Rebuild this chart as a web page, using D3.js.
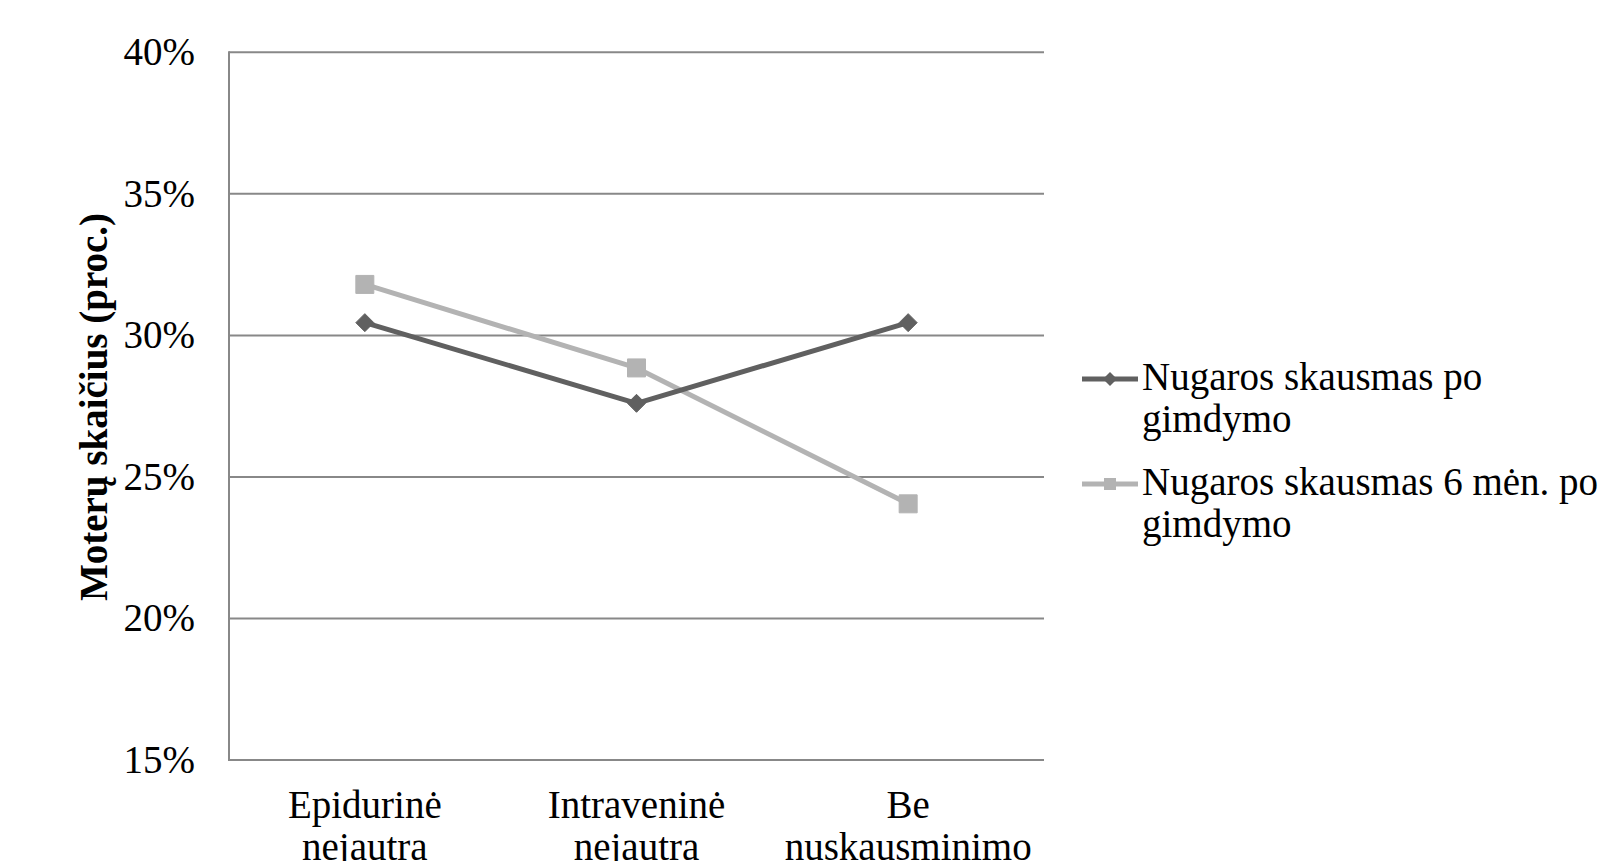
<!DOCTYPE html>
<html><head><meta charset="utf-8">
<script src="https://cdn.jsdelivr.net/npm/d3@7"></script>
<style>html,body{margin:0;padding:0;background:#fff;} svg{display:block;}</style>
</head><body>
<script>
const categories = [["Epidurinė","nejautra"],["Intraveninė","nejautra"],["Be","nuskausminimo"]];
const seriesNames = [["Nugaros skausmas po","gimdymo"],["Nugaros skausmas 6 mėn. po","gimdymo"]];
const seriesAfterBirth = [30.45, 27.6, 30.45];
const seriesSixMonths = [31.8, 28.85, 24.05];
const yTicks = [15,20,25,30,35,40];
const colors = ["#606060","#b3b3b3"];

(function(){
const W=1606,H=861;
const FONT = "'Liberation Serif', serif";
const FS = 39;
const svg = d3.select("body").append("svg").attr("width",W).attr("height",H);
const mLeft=229,mRight=1044,mTop=52.3,mBottom=760;
const x = d3.scaleBand().domain(d3.range(categories.length)).range([mLeft,mRight]);
const y = d3.scaleLinear().domain([15,40]).range([mBottom,mTop]);

svg.append("g").selectAll("line").data(yTicks).join("line")
  .attr("x1",mLeft).attr("x2",mRight).attr("y1",d=>y(d)).attr("y2",d=>y(d))
  .attr("stroke","#888").attr("stroke-width",2);
svg.append("line").attr("x1",mLeft).attr("x2",mLeft).attr("y1",mTop-1).attr("y2",mBottom+1)
  .attr("stroke","#888").attr("stroke-width",2);

svg.append("g").selectAll("text").data(yTicks).join("text")
  .attr("x",195).attr("y",d=>y(d)+13).attr("text-anchor","end")
  .attr("font-family",FONT).attr("font-size",FS).attr("fill","#000")
  .text(d=>d+"%");

const xl = svg.append("g").selectAll("text").data(categories).join("text")
  .attr("text-anchor","middle").attr("font-family",FONT).attr("font-size",FS).attr("fill","#000");
xl.each(function(d,i){
  const t=d3.select(this);
  d.forEach((s,j)=>t.append("tspan").attr("x",x(i)+x.bandwidth()/2).attr("y",818+j*42).text(s));
});

svg.append("text").attr("transform","translate(107,407) rotate(-90)")
  .attr("text-anchor","middle").attr("font-family",FONT).attr("font-weight","bold")
  .attr("font-size",FS).attr("fill","#000").text("Moterų skaičius (proc.)");

const series=[seriesAfterBirth,seriesSixMonths];
const line=d3.line().x((d,i)=>x(i)+x.bandwidth()/2).y(d=>y(d));
[1,0].forEach(k=>{
  svg.append("path").datum(series[k]).attr("d",line).attr("fill","none")
    .attr("stroke",colors[k]).attr("stroke-width",5).attr("stroke-linejoin","round");
});
[1,0].forEach(k=>{
  svg.append("g").selectAll("path").data(series[k]).join("path")
    .attr("transform",(d,i)=>`translate(${x(i)+x.bandwidth()/2},${y(d)})`)
    .attr("d", k===0 ? "M0,-9L9,0L0,9L-9,0Z" : "M-9,-9H9V9H-9Z")
    .attr("fill",colors[k]).attr("stroke",colors[k]).attr("stroke-width",1).attr("stroke-linejoin","round");
});

const legY=[379,484];
seriesNames.forEach((nm,k)=>{
  const g=svg.append("g").attr("transform",`translate(0,${legY[k]})`);
  g.append("line").attr("x1",1082).attr("x2",1138).attr("y1",0).attr("y2",0)
    .attr("stroke",colors[k]).attr("stroke-width",5);
  g.append("path").attr("transform","translate(1110,0)")
    .attr("d", k===0 ? "M0,-7L7,0L0,7L-7,0Z" : "M-6,-6H6V6H-6Z").attr("fill",colors[k]);
  const t=g.append("text").attr("font-family",FONT).attr("font-size",FS).attr("fill","#000");
  nm.forEach((s,j)=>t.append("tspan").attr("x",1142).attr("y",11+j*42).text(s));
});
})();
</script>
</body></html>
